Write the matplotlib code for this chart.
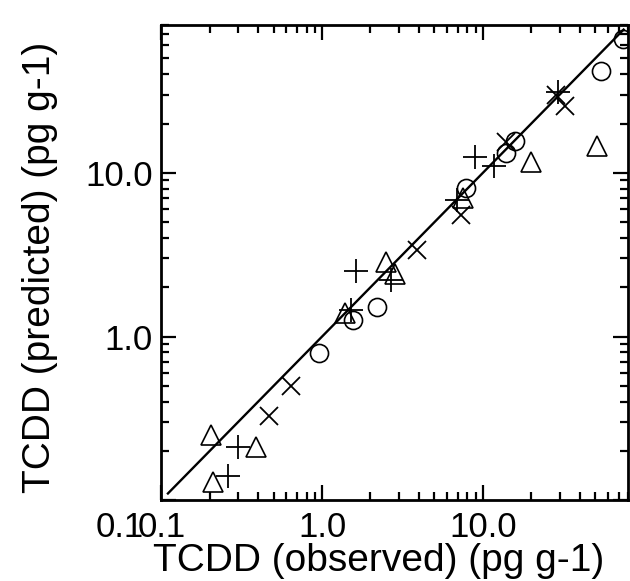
import matplotlib
matplotlib.use("Agg")
import matplotlib.pyplot as plt
import matplotlib.transforms as mtransforms
from matplotlib.ticker import FixedLocator, LogLocator, NullFormatter

plt.rcParams['font.family'] = ['Liberation Sans', 'DejaVu Sans']

# observed vs predicted TCDD (pg g-1), one list per marker type
circ_obs = [0.95, 1.56, 2.2, 7.8, 13.9, 15.8, 54.6, 73.9]
circ_pred = [0.79, 1.27, 1.52, 8.1, 13.2, 15.7, 41.9, 65.6]

tri_obs = [0.205, 0.21, 0.39, 1.39, 2.5, 2.85, 7.5, 20.0, 51.0]
tri_pred = [0.25, 0.13, 0.21, 1.40, 2.85, 2.4, 7.0, 11.7, 14.5]

plus_obs = [0.26, 0.30, 1.52, 1.63, 2.7, 6.9, 8.9, 11.7, 29.5]
plus_pred = [0.14, 0.21, 1.45, 2.5, 2.2, 6.8, 12.5, 11.0, 31.2]

cross_obs = [0.47, 0.64, 3.9, 7.3, 13.9, 28.6, 32.6]
cross_pred = [0.325, 0.50, 3.4, 5.5, 15.5, 29.9, 25.6]

# 1:1 line
line_x = [0.11, 75.0]
line_y = [0.11, 75.0]

ticks = [0.1, 1.0, 10.0]
tick_labels = ["0.1", "1.0", "10.0"]

fig = plt.figure(figsize=(6.3, 5.81), dpi=100)
ax = fig.add_axes([0.256, 0.139, 0.741, 0.818])

ax.plot(line_x, line_y, color="black", lw=1.7, zorder=2)
ax.plot(circ_obs, circ_pred, "o", ms=13, mfc="none", mec="black", mew=1.2, zorder=3)
ax.plot(tri_obs, tri_pred, "^", ms=14, mfc="none", mec="black", mew=1.2, zorder=3)
ax.plot(plus_obs, plus_pred, "+", ms=17, color="black", mew=1.3, zorder=3)
ax.plot(cross_obs, cross_pred, "x", ms=13, color="black", mew=1.3, zorder=3)

ax.set_xscale("log")
ax.set_yscale("log")
ax.set_xlim(0.1, 80)
ax.set_ylim(0.1, 80)

for axis in (ax.xaxis, ax.yaxis):
    axis.set_major_locator(FixedLocator(ticks))
    axis.set_minor_locator(LogLocator(base=10, subs=range(2, 10)))
    axis.set_minor_formatter(NullFormatter())
ax.set_xticklabels(tick_labels)
ax.set_yticklabels(tick_labels)

ax.tick_params(which="both", direction="in", top=True, right=True, width=1.6, colors="black")
ax.tick_params(which="major", length=11, labelsize=25)
ax.tick_params(which="minor", length=6)
ax.tick_params(axis="x", which="major", pad=8)
ax.tick_params(axis="y", which="major", pad=6)

for sp in ax.spines.values():
    sp.set_linewidth(2.0)

# y label "0.1" sits below and left of its tick in the original
lab = ax.get_yticklabels()[0]
lab.set_transform(lab.get_transform() + mtransforms.ScaledTranslation(-9 / 100, -24 / 100, fig.dpi_scale_trans))

ax.set_xlabel("TCDD (observed) (pg g-1)", fontsize=28)
ax.xaxis.set_label_coords(0.465, -0.128)
ax.xaxis.label.set_va("center")
ax.set_ylabel("TCDD (predicted) (pg g-1)", fontsize=28)
ax.yaxis.set_label_coords(-0.26, 0.49)
ax.yaxis.label.set_va("center")

fig.savefig("out.png", dpi=100)
